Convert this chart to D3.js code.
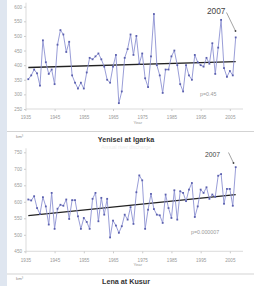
<!DOCTYPE html>
<html><head><meta charset="utf-8">
<script src="https://cdn.jsdelivr.net/npm/d3@7"></script>
<style>body{margin:0;background:#fff}svg{display:block;font-family:"Liberation Sans",Arial,sans-serif}</style>
</head><body><svg id="c" width="254" height="286"></svg>
<script>
const years = d3.range(1936, 2008);
const xTickLabels = [1935, 1945, 1955, 1965, 1975, 1985, 1995, 2005];
const obValues = [352,365,385,372,330,485,410,370,385,335,470,520,505,445,480,365,340,320,340,320,375,425,420,430,440,420,395,350,340,395,435,270,310,425,455,505,435,500,405,440,355,325,430,575,400,365,305,385,385,430,450,400,335,310,400,365,350,435,410,400,395,425,405,475,370,460,555,390,360,380,365,495];
const obTicks = [250,300,350,400,450,500,550,600];
const obTrend = [392, 412];
const yenValues = [607,604,617,581,563,614,586,531,627,518,579,591,588,607,548,605,605,556,518,551,539,518,609,627,541,612,561,609,492,543,528,506,526,561,546,584,533,629,680,665,518,576,624,578,561,559,536,622,581,551,635,546,632,627,602,637,657,554,586,637,627,644,609,622,615,679,684,594,639,639,588,705];
const yenTicks = [450,500,550,600,650,700,750];
const yenTrend = [558, 622];
const titles = ["Yenisei at Igarka", "Lena at  Kusur"];
const pLabels = ["p=0.45", "p=0.000007"];

const svg = d3.select("#c");
svg.append("rect").attr("x",0).attr("y",0).attr("width",7).attr("height",286).attr("fill","#dfe6f0");

const x = d3.scaleLinear().domain([1936, 2007]).range([28.3, 235.7]);

function panel(values, ticks, trend, yRange, pLabel, pPos, lab, title, sepY, sub) {
  const y = d3.scaleLinear().domain([ticks[0], ticks[ticks.length-1]]).range(yRange);
  const g = svg.append("g");
  const bottom = yRange[0];
  g.append("line").attr("x1",26).attr("x2",26).attr("y1",yRange[1]-4).attr("y2",bottom).attr("stroke","#ccc").attr("stroke-width",0.7);
  g.append("line").attr("x1",26).attr("x2",243).attr("y1",bottom).attr("y2",bottom).attr("stroke","#ccc").attr("stroke-width",0.7);
  const ya = d3.axisLeft(y).tickValues(ticks).tickSize(2).tickPadding(2);
  const ax = g.append("g").attr("transform","translate(26,0)").call(ya);
  ax.select(".domain").remove();
  ax.selectAll("line").attr("stroke","#ccc");
  ax.selectAll("text").attr("font-size",4.6).attr("fill","#999").attr("font-family","Liberation Sans, Arial");
  const xa = d3.axisBottom(x).tickValues(xTickLabels).tickSize(2).tickPadding(5).tickFormat(d3.format("d"));
  const bx = g.append("g").attr("transform",`translate(0,${bottom})`).call(xa);
  bx.select(".domain").remove();
  bx.selectAll("line").attr("stroke","#ccc");
  bx.selectAll("text").attr("font-size",4.6).attr("fill","#999").attr("font-family","Liberation Sans, Arial");
  g.append("text").attr("x",x(1973.5)).attr("y",bottom+15).attr("text-anchor","middle").attr("font-size",4.2).attr("fill","#999").text("Year");
  g.append("line").attr("x1",x(1936)).attr("x2",x(2007)).attr("y1",y(trend[0])).attr("y2",y(trend[1])).attr("stroke","#222").attr("stroke-width",1.3);
  const line = d3.line().x((d,i)=>x(years[i])).y(d=>y(d));
  g.append("path").attr("d",line(values)).attr("fill","none").attr("stroke","#8d92d2").attr("stroke-width",0.9);
  g.selectAll(".pt").data(values).join("rect").attr("x",(d,i)=>x(years[i])-0.9).attr("y",d=>y(d)-0.9).attr("width",1.8).attr("height",1.8).attr("fill","#5b60ae");
  g.append("text").attr("x",pPos[0]).attr("y",pPos[1]).attr("font-size",5.3).attr("fill","#999").text(pLabel);
  g.append("text").attr("x",lab.tx).attr("y",lab.ty).attr("font-size",lab.fs).attr("fill","#444").text("2007");
  g.append("line").attr("x1",lab.x1).attr("y1",lab.y1).attr("x2",lab.x2).attr("y2",lab.y2).attr("stroke","#666").attr("stroke-width",0.6);
  g.append("circle").attr("cx",lab.x2).attr("cy",lab.y2).attr("r",0.9).attr("fill","#444");
  svg.append("line").attr("x1",7).attr("x2",254).attr("y1",sepY).attr("y2",sepY).attr("stroke","#c8c8c8").attr("stroke-width",0.8);
  svg.append("text").attr("x",16).attr("y",sepY+6).attr("font-size",4.3).attr("fill","#888").text("km³");
  svg.append("text").attr("x",126).attr("y",sepY+10).attr("text-anchor","middle").attr("font-size",7.2).attr("font-weight","bold").attr("fill","#333").text(title);
  if (sub) svg.append("text").attr("x",126).attr("y",sepY+17).attr("text-anchor","middle").attr("font-size",5).attr("fill","#eee").text("Annual river discharge");
}

panel(obValues, obTicks, obTrend, [109, 6.7], pLabels[0], [200, 96],
  {tx:207, ty:13.5, fs:8.3, x1:226.5, y1:12.5, x2:235.5, y2:31}, titles[0], 131.5, true);
panel(yenValues, yenTicks, yenTrend, [251.3, 152.3], pLabels[1], [191, 234],
  {tx:205, ty:157, fs:6.8, x1:228.5, y1:152.5, x2:233.5, y2:163}, titles[1], 274, false);
</script></body></html>
